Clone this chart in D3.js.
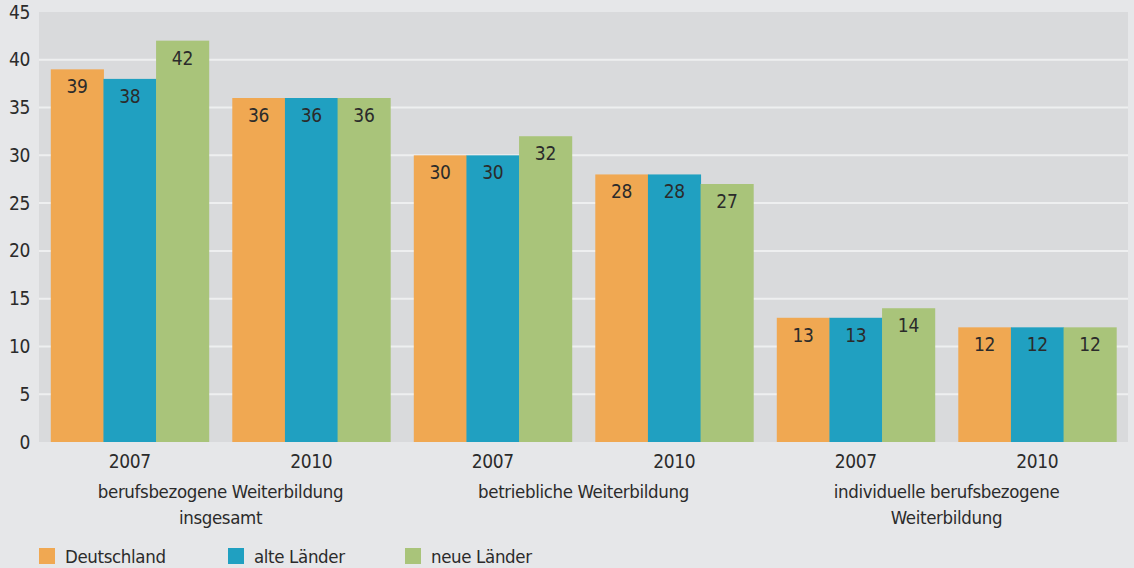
<!DOCTYPE html>
<html><head><meta charset="utf-8">
<script src="https://cdn.jsdelivr.net/npm/d3@7"></script>
<style>
html,body{margin:0;padding:0;background:#e6e7e9;}
svg{display:block;}
text{font-family:"Liberation Sans Narrow","DejaVu Sans Condensed","Roboto Condensed",sans-serif;fill:#2b2b2b;letter-spacing:-0.35px;}
</style></head>
<body>
<svg id="c" width="1134" height="568"></svg>
<script>
const years = ["2007","2010","2007","2010","2007","2010"];
const categories = [["berufsbezogene Weiterbildung","insgesamt"],["betriebliche Weiterbildung"],["individuelle berufsbezogene","Weiterbildung"]];
const seriesNames = ["Deutschland","alte Länder","neue Länder"];
const deutschland = [39,36,30,28,13,12];
const alteLaender = [38,36,30,28,13,12];
const neueLaender = [42,36,32,27,14,12];
const yTicks = [0,5,10,15,20,25,30,35,40,45];
const colors = ["#f0a852","#20a0c1","#a9c47a"];

const series = [deutschland, alteLaender, neueLaender];
const svg = d3.select("#c");
const pLeft = 39, pRight = 1128, pTop = 12, pBottom = 442;
const fs = 18.5;

const x = d3.scaleBand().domain(d3.range(years.length)).range([pLeft, pRight]).paddingInner(0.13).paddingOuter(0.065);
const xs = d3.scaleBand().domain(d3.range(seriesNames.length)).range([0, x.bandwidth()]);
const y = d3.scaleLinear().domain([0,45]).range([pBottom, pTop]);

svg.append("rect").attr("x", pLeft).attr("y", pTop).attr("width", pRight-pLeft).attr("height", pBottom-pTop).attr("fill","#d9dadc");

svg.append("g").selectAll("line").data(yTicks.filter(t=>t>0 && t<45)).join("line")
  .attr("x1", pLeft).attr("x2", pRight).attr("y1", d=>y(d)).attr("y2", d=>y(d))
  .attr("stroke","#eeeff0").attr("stroke-width",2);

const fontFam = '"Liberation Sans Narrow","DejaVu Sans Condensed",sans-serif';
// y axis labels
const yAxis = d3.axisLeft(y).tickValues(yTicks).tickSize(0).tickPadding(9);
const ya = svg.append("g").attr("transform",`translate(${pLeft},0)`).call(yAxis);
ya.select(".domain").remove();
ya.selectAll("text").attr("font-size",fs+0.5).style("font-family",fontFam).attr("fill","#2b2b2b");

// bars
const g = svg.append("g");
years.forEach((yr,i)=>{
  series.forEach((s,j)=>{
    const bx = x(i)+xs(j);
    g.append("rect").attr("x", bx).attr("y", y(s[i])).attr("width", xs.bandwidth()+0.5).attr("height", y(0)-y(s[i])).attr("fill", colors[j]);
    g.append("text").attr("x", bx+xs.bandwidth()/2).attr("y", y(s[i])+24).attr("text-anchor","middle").attr("font-size",fs+0.5).text(s[i]);
  });
});

// x axis year labels
const xAxis = d3.axisBottom(x).tickFormat(i=>years[i]).tickSize(0).tickPadding(13);
const xa = svg.append("g").attr("transform",`translate(0,${pBottom})`).call(xAxis);
xa.select(".domain").remove();
xa.selectAll("text").attr("font-size",fs+0.5).style("font-family",fontFam).attr("fill","#2b2b2b");

// category labels
categories.forEach((lines,k)=>{
  const cx = (x(2*k)+x(2*k+1)+x.bandwidth())/2;
  lines.forEach((ln,m)=>{
    svg.append("text").attr("x",cx).attr("y",498+m*26).attr("text-anchor","middle").attr("font-size",fs).text(ln);
  });
});

// legend
const legX = [39,228,405];
seriesNames.forEach((n,j)=>{
  svg.append("rect").attr("x",legX[j]).attr("y",548).attr("width",16).attr("height",16).attr("fill",colors[j]);
  svg.append("text").attr("x",legX[j]+26).attr("y",563).attr("font-size",fs).text(n);
});
</script>
</body></html>
